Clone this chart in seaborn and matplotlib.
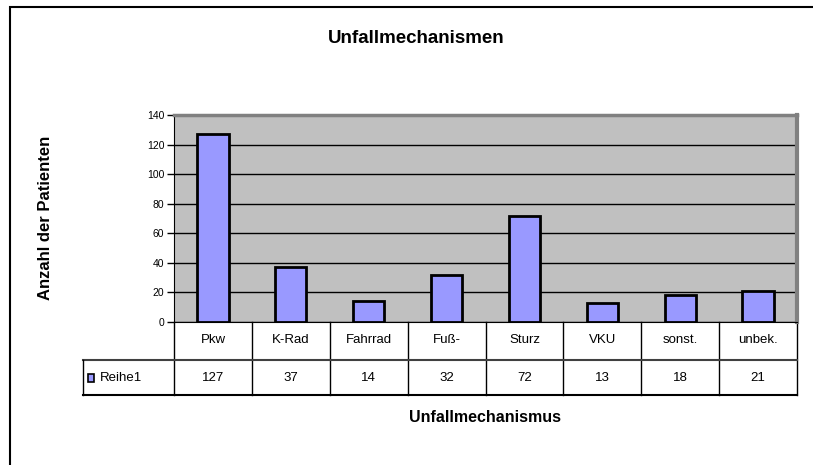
import numpy as np
import pandas as pd
import matplotlib
matplotlib.use("Agg")
import matplotlib.pyplot as plt
import matplotlib.transforms as mtransforms
from matplotlib.patches import Rectangle
import seaborn as sns

# Daten
kategorien = ["Pkw", "K-Rad", "Fahrrad", "Fuß-", "Sturz", "VKU", "sonst.", "unbek."]
anzahl = [127, 37, 14, 32, 72, 13, 18, 21]
reihe = "Reihe1"
y_ticks = [0, 20, 40, 60, 80, 100, 120, 140]

df = pd.DataFrame({"Unfallmechanismus": kategorien, "Anzahl": anzahl})

plt.rcParams["font.family"] = ["Liberation Sans", "DejaVu Sans"]

W, H = 813, 465
fig = plt.figure(figsize=(W / 100, H / 100), dpi=100)

# Achsenbereich (Pixel-Koordinaten aus dem Original)
left, right, top, bottom = 174, 797, 115, 322
ax = fig.add_axes([left / W, 1 - bottom / H, (right - left) / W, (bottom - top) / H])
ax.set_facecolor("#C0C0C0")

sns.barplot(data=df, x="Unfallmechanismus", y="Anzahl", color="#9999FF",
            saturation=1, edgecolor="black", linewidth=2, width=0.4, ax=ax, zorder=3)

ax.set_xlim(-0.5, len(kategorien) - 0.5)
ax.set_ylim(0, 140)
ax.set_yticks(y_ticks)
ax.set_yticklabels([str(t) for t in y_ticks], fontsize=7.5)
ax.tick_params(axis="y", direction="out", length=5, width=1, pad=2)
ax.set_xticks([])
ax.set_xlabel("")
ax.set_ylabel("")
ax.grid(axis="y", color="black", linewidth=1, zorder=0)
ax.set_axisbelow(True)

ax.spines["left"].set_color("black")
ax.spines["bottom"].set_color("black")
ax.spines["top"].set_color("#808080")
ax.spines["right"].set_color("#808080")
ax.spines["top"].set_linewidth(2.5)
ax.spines["right"].set_linewidth(3)

# Datentabelle unter der Grafik
tr = mtransforms.blended_transform_factory(ax.transData, ax.transAxes)
ph = bottom - top
def fy(y_px):
    return (bottom - y_px) / ph
x_head = -0.5 + (83 - left) / ((right - left) / len(kategorien))
n = len(kategorien)

for i in range(n + 1):
    ax.plot([i - 0.5, i - 0.5], [0, fy(395)], color="black", lw=1,
            transform=tr, clip_on=False)
ax.plot([x_head, n - 0.5], [fy(360), fy(360)], color="#404040", lw=1.5,
        transform=tr, clip_on=False)
ax.plot([x_head, n - 0.5], [fy(395), fy(395)], color="black", lw=1.5,
        transform=tr, clip_on=False)
ax.plot([x_head, x_head], [fy(360), fy(395)], color="black", lw=1,
        transform=tr, clip_on=False)

for i, (k, v) in enumerate(zip(kategorien, anzahl)):
    ax.text(i, fy(340), k, transform=tr, ha="center", va="center", fontsize=9.5)
    ax.text(i, fy(378), str(v), transform=tr, ha="center", va="center", fontsize=9.5)

ax.add_patch(Rectangle((x_head + 0.07, fy(382)), 0.075, 8 / ph, transform=tr,
                       facecolor="#9999FF", edgecolor="black", lw=1.2, clip_on=False))
ax.text(x_head + 0.22, fy(378), reihe, transform=tr, ha="left", va="center", fontsize=9.5)

# Titel und Achsenbeschriftungen
fig.text(416 / W, 1 - 38.5 / H, "Unfallmechanismen", ha="center", va="center",
         fontsize=13.5, fontweight="bold")
fig.text(485 / W, 1 - 417 / H, "Unfallmechanismus", ha="center", va="center",
         fontsize=11.5, fontweight="bold")
fig.text(45 / W, 1 - 218 / H, "Anzahl der Patienten", ha="center", va="center",
         rotation=90, fontsize=12, fontweight="bold")

# Rahmen des Diagrammbereichs
fig.patches.append(Rectangle((10 / W, -0.1), 1.2, 1.1 - 7 / H, transform=fig.transFigure,
                             facecolor="none", edgecolor="black", lw=1.5))

fig.savefig("out.png", dpi=100, facecolor="white")
